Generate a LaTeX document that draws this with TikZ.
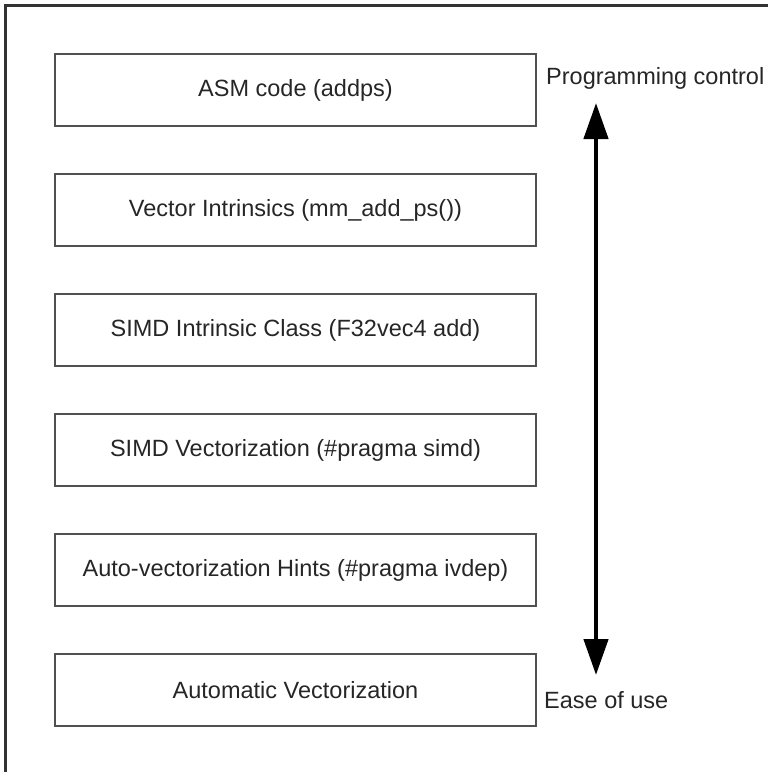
\documentclass[tikz,border=0pt]{standalone}
\usepackage{fontspec}
\setmainfont{Liberation Sans}
\usetikzlibrary{arrows.meta}
\definecolor{boxline}{HTML}{505050}
\definecolor{frameline}{HTML}{333333}
\definecolor{ink}{HTML}{262626}
\tikzset{
  level/.style={draw=boxline, line width=2.2pt, minimum width=481pt, minimum height=72pt,
    inner sep=0pt, text=ink, font=\fontsize{23.5}{26}\selectfont},
  sidelabel/.style={anchor=base west, inner sep=0pt, text=ink, font=\fontsize{23.5}{26}\selectfont},
  axis/.style={line width=4.5pt, {Triangle[width=24pt,length=36pt]}-{Triangle[width=24pt,length=36pt]}}
}
\begin{document}
\begin{tikzpicture}[x=1pt, y=-1pt]
  \useasboundingbox (0,0) rectangle (768,772);
  \fill[white] (0,0) rectangle (768,772);
  % open outer frame: left and top edges only
  \draw[line width=3pt, draw=frameline] (5.5,780) -- (5.5,5.5) -- (780,5.5);

  % abstraction levels, from most control to most ease of use
  \node[level] (asm)  at (295.5,90)  {ASM code (addps)};
  \node[level] (vint) at (295.5,210) {Vector Intrinsics (mm\_add\_ps())};
  \node[level] (cls)  at (295.5,330) {SIMD Intrinsic Class (F32vec4 add)};
  \node[level] (simd) at (295.5,450) {SIMD Vectorization (\#pragma simd)};
  \node[level] (hint) at (295.5,570) {Auto-vectorization Hints (\#pragma ivdep)};
  \node[level] (auto) at (295.5,690) {Automatic Vectorization};

  % axis labels
  \node[sidelabel] (ctrl) at (546,84)  {Programming control};
  \node[sidelabel] (ease) at (544,708) {Ease of use};

  % double-headed trade-off axis
  \coordinate (axtop) at (596,103);
  \coordinate (axbot) at (596,675);
  \draw[axis] (axtop) -- (axbot);
\end{tikzpicture}
\end{document}
